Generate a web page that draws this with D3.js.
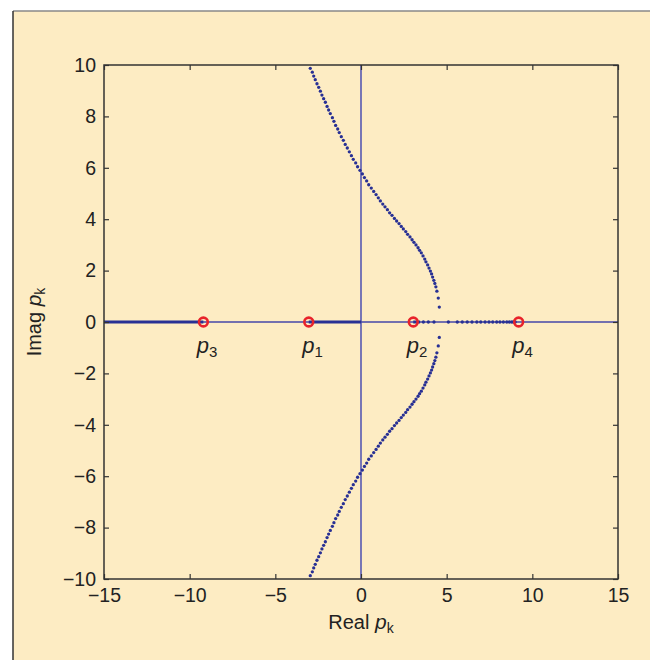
<!DOCTYPE html>
<html lang="en">
<head>
<meta charset="UTF-8">
<script src="https://cdn.jsdelivr.net/npm/d3@7"></script>
<style>
  body { margin: 0; background: #fff; }
  text { font-family: 'Liberation Sans', Arial, sans-serif; fill: #222; }
  .tick text { font-size: 19.5px; }
  .tick line { stroke: #333; stroke-width: 1.2; }
  .axis_title { font-size: 20px; }
  .pole_label { font-size: 22px; }
</style>
</head>
<body>
<div id="chart"></div>
<script>
  // upper branch of the locus (real, imag)
  var upperRe = [-2.96, -2.84, -2.76, -2.67, -2.57, -2.47, -2.37, -2.28, -2.18, -2.08,
    -1.98, -1.89, -1.79, -1.67, -1.58, -1.48, -1.36, -1.27, -1.15, -1.03,
    -0.92, -0.80, -0.68, -0.56, -0.45, -0.31, -0.20, -0.06, 0.08, 0.20,
    0.33, 0.45, 0.60, 0.74, 0.88, 1.01, 1.13, 1.27, 1.40, 1.54,
    1.67, 1.81, 1.95, 2.08, 2.22, 2.35, 2.47, 2.61, 2.72, 2.86,
    2.98, 3.09, 3.21, 3.33, 3.42, 3.52, 3.62, 3.72, 3.79, 3.89,
    3.97, 4.05, 4.12, 4.18, 4.25, 4.31, 4.37, 4.43, 4.51, 4.57];
  var upperIm = [9.87, 9.72, 9.57, 9.43, 9.27, 9.13, 8.98, 8.83, 8.69, 8.55,
    8.39, 8.25, 8.11, 7.95, 7.81, 7.65, 7.51, 7.37, 7.21, 7.07,
    6.91, 6.77, 6.62, 6.47, 6.33, 6.19, 6.04, 5.90, 5.76, 5.62,
    5.49, 5.34, 5.21, 5.08, 4.96, 4.83, 4.71, 4.59, 4.48, 4.37,
    4.25, 4.15, 4.03, 3.93, 3.83, 3.72, 3.62, 3.52, 3.41, 3.31,
    3.20, 3.10, 3.00, 2.89, 2.79, 2.69, 2.57, 2.45, 2.34, 2.22,
    2.10, 1.98, 1.87, 1.75, 1.62, 1.50, 1.37, 1.20, 0.93, 0.58];
  // lower branch of the locus
  var lowerRe = [-2.96, -2.84, -2.76, -2.67, -2.57, -2.47, -2.37, -2.28, -2.18, -2.08,
    -1.98, -1.89, -1.79, -1.67, -1.58, -1.48, -1.36, -1.27, -1.15, -1.03,
    -0.92, -0.80, -0.68, -0.56, -0.45, -0.31, -0.20, -0.06, 0.08, 0.20,
    0.33, 0.45, 0.60, 0.74, 0.88, 1.01, 1.13, 1.27, 1.40, 1.54,
    1.67, 1.81, 1.95, 2.08, 2.22, 2.35, 2.47, 2.61, 2.72, 2.86,
    2.98, 3.09, 3.21, 3.33, 3.42, 3.52, 3.62, 3.72, 3.79, 3.89,
    3.97, 4.05, 4.12, 4.18, 4.25, 4.31, 4.37, 4.43, 4.51, 4.57];
  var lowerIm = [-9.87, -9.72, -9.57, -9.43, -9.27, -9.13, -8.98, -8.83, -8.69, -8.55,
    -8.39, -8.25, -8.11, -7.95, -7.81, -7.65, -7.51, -7.37, -7.21, -7.07,
    -6.91, -6.77, -6.62, -6.47, -6.33, -6.19, -6.04, -5.90, -5.76, -5.62,
    -5.49, -5.34, -5.21, -5.08, -4.96, -4.83, -4.71, -4.59, -4.48, -4.37,
    -4.25, -4.15, -4.03, -3.93, -3.83, -3.72, -3.62, -3.52, -3.41, -3.31,
    -3.20, -3.10, -3.00, -2.89, -2.79, -2.69, -2.57, -2.45, -2.34, -2.22,
    -2.10, -1.98, -1.87, -1.75, -1.62, -1.50, -1.37, -1.20, -0.93, -0.60];
  // locus points lying on the real axis
  var realDots = [3.64, 3.93, 4.26, 5.10, 5.62, 5.91, 6.20, 6.48, 6.76, 6.99,
    7.24, 7.47, 7.69, 7.92, 8.11, 8.31, 8.51, 8.66, 8.80, 8.90, 9.00];
  // dense stretches of the locus on the real axis (drawn as solid)
  var segStart = [-15, -3.05, 3.05];
  var segEnd = [-9.2, 0, 3.45];
  // open-loop poles
  var poleRe = [-3.05, 3.05, -9.2, 9.2];
  var poleNames = ['1', '2', '3', '4'];

  var xTicks = [-15, -10, -5, 0, 5, 10, 15];
  var yTicks = [-10, -8, -6, -4, -2, 0, 2, 4, 6, 8, 10];

  var W = 650, H = 660;
  var plotL = 104, plotR = 618, plotT = 65, plotB = 579;
  var dotColor = '#283094';

  var svg = d3.select('#chart').append('svg')
    .attr('width', W).attr('height', H);

  // page panel
  svg.append('rect')
    .attr('x', 13).attr('y', 11)
    .attr('width', W).attr('height', H)
    .style('fill', '#fdecc3');
  svg.append('line')
    .attr('x1', 13).attr('x2', W).attr('y1', 11).attr('y2', 11)
    .style('stroke', '#888').style('stroke-width', 1.5);
  svg.append('line')
    .attr('x1', 13).attr('x2', 13).attr('y1', 11).attr('y2', H)
    .style('stroke', '#333').style('stroke-width', 1.5);

  var xScale = d3.scaleLinear().domain([-15, 15]).range([plotL, plotR]);
  var yScale = d3.scaleLinear().domain([-10, 10]).range([plotB, plotT]);

  // zero lines
  svg.append('line')
    .attr('x1', xScale(0)).attr('x2', xScale(0))
    .attr('y1', yScale(10)).attr('y2', yScale(-10))
    .style('stroke', '#6a6ab4').style('stroke-width', 1.8);
  svg.append('line')
    .attr('x1', xScale(-15)).attr('x2', xScale(15))
    .attr('y1', yScale(0)).attr('y2', yScale(0))
    .style('stroke', '#4547a8').style('stroke-width', 1.5);

  // dense real-axis stretches
  svg.selectAll('.seg')
    .data(segStart)
    .enter()
    .append('line')
    .attr('class', 'seg')
    .attr('x1', function(d) { return xScale(d); })
    .attr('x2', function(d, i) { return xScale(segEnd[i]); })
    .attr('y1', yScale(0)).attr('y2', yScale(0))
    .style('stroke', dotColor).style('stroke-width', 3);

  var branches = [[upperRe, upperIm], [lowerRe, lowerIm]];
  branches.forEach(function(b) {
    svg.append('g').selectAll('circle')
      .data(b[0])
      .enter()
      .append('circle')
      .attr('cx', function(d) { return xScale(d); })
      .attr('cy', function(d, i) { return yScale(b[1][i]); })
      .attr('r', 1.65)
      .style('fill', dotColor);
  });

  svg.append('g').selectAll('circle')
    .data(realDots)
    .enter()
    .append('circle')
    .attr('cx', function(d) { return xScale(d); })
    .attr('cy', yScale(0))
    .attr('r', 1.65)
    .style('fill', dotColor);

  // poles
  svg.append('g').selectAll('circle')
    .data(poleRe)
    .enter()
    .append('circle')
    .attr('cx', function(d) { return xScale(d); })
    .attr('cy', yScale(0))
    .attr('r', 4.4)
    .style('fill', 'none')
    .style('stroke', '#e8232b')
    .style('stroke-width', 2.6);

  var labels = svg.append('g').selectAll('text')
    .data(poleRe)
    .enter()
    .append('text')
    .attr('class', 'pole_label')
    .attr('x', function(d) { return xScale(d) - 6.5; })
    .attr('y', yScale(0) + 31);
  labels.append('tspan')
    .style('font-style', 'italic')
    .text('p');
  labels.append('tspan')
    .attr('dy', 4)
    .style('font-size', '15px')
    .text(function(d, i) { return poleNames[i]; });

  // axes, ticks pointing inward
  var gx = svg.append('g')
    .attr('transform', 'translate(0,' + plotB + ')')
    .call(d3.axisBottom(xScale).tickValues(xTicks).tickSize(-5).tickPadding(9));
  var gxt = svg.append('g')
    .attr('transform', 'translate(0,' + plotT + ')')
    .call(d3.axisTop(xScale).tickValues(xTicks).tickSize(-5).tickFormat(''));
  var gy = svg.append('g')
    .attr('transform', 'translate(' + plotL + ',0)')
    .call(d3.axisLeft(yScale).tickValues(yTicks).tickSize(-5).tickPadding(8));
  var gyr = svg.append('g')
    .attr('transform', 'translate(' + plotR + ',0)')
    .call(d3.axisRight(yScale).tickValues(yTicks).tickSize(-5).tickFormat(''));
  [gx, gxt, gy, gyr].forEach(function(g) {
    g.select('.domain').remove();
    g.attr('font-family', null).attr('font-size', null);
  });

  svg.append('rect')
    .attr('x', plotL).attr('y', plotT)
    .attr('width', plotR - plotL).attr('height', plotB - plotT)
    .style('fill', 'none')
    .style('stroke', '#333')
    .style('stroke-width', 1.5);

  // axis titles
  var xt = svg.append('text')
    .attr('class', 'axis_title')
    .attr('x', (plotL + plotR) / 2)
    .attr('y', 629)
    .style('text-anchor', 'middle');
  xt.append('tspan').text('Real ');
  xt.append('tspan').style('font-style', 'italic').style('font-size', '21px').text('p');
  xt.append('tspan').attr('dy', 4).style('font-size', '14px').text('k');

  var yt = svg.append('text')
    .attr('class', 'axis_title')
    .attr('transform', 'translate(41,' + yScale(0) + ') rotate(-90)')
    .style('text-anchor', 'middle');
  yt.append('tspan').text('Imag ');
  yt.append('tspan').style('font-style', 'italic').style('font-size', '21px').text('p');
  yt.append('tspan').attr('dy', 4).style('font-size', '14px').text('k');
</script>
</body>
</html>
